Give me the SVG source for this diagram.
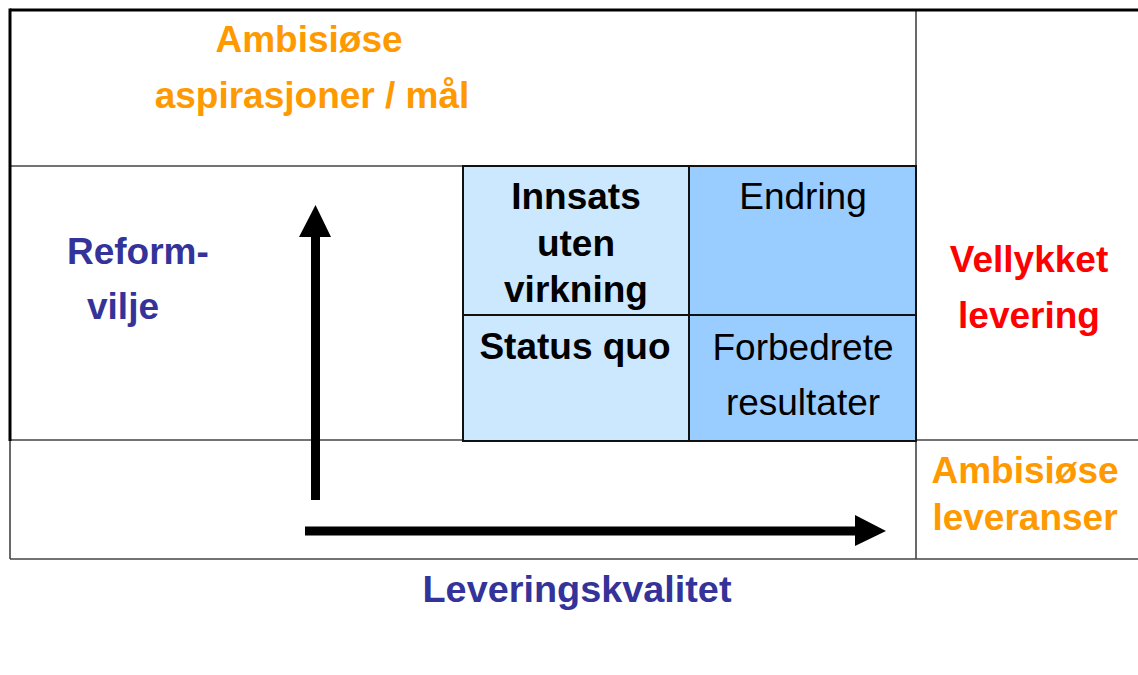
<svg xmlns="http://www.w3.org/2000/svg" width="1138" height="675" viewBox="0 0 1138 675">
<style>
text{font-family:"Liberation Sans",Arial,sans-serif;font-size:37px}
.b{font-weight:bold}
.m{text-anchor:middle}
.or{fill:#FF9900}
.nv{fill:#333399}
.rd{fill:#FF0000}
.blk{fill:#000}
.thin{stroke:#444;stroke-width:1.6;fill:none}
.thick{stroke:#000;stroke-width:3;fill:none}
.cell{stroke:#111;stroke-width:2}
.c1{fill:#CCE8FF}
.c2{fill:#99CCFF}
</style>
<rect width="1138" height="675" fill="#fff"/>
<g id="frame">
<line class="thin" x1="10" y1="166" x2="916" y2="166"/>
<line class="thin" x1="916" y1="10" x2="916" y2="559"/>
<line class="thin" x1="10" y1="440" x2="1138" y2="440"/>
<line class="thin" x1="10" y1="559" x2="1138" y2="559"/>
<line class="thin" x1="10" y1="440" x2="10" y2="559"/>
<line class="thick" x1="10" y1="10" x2="1138" y2="10"/>
<line class="thick" x1="10" y1="8.5" x2="10" y2="441"/>
</g>
<g id="aspirasjoner">
<text class="b m or" x="309" y="52">Ambisiøse</text>
<text class="b m or" x="312" y="108">aspirasjoner / mål</text>
</g>
<g id="reformvilje">
<text class="b nv" x="67" y="264">Reform-</text>
<text class="b nv" x="87" y="319">vilje</text>
</g>
<g id="innsats">
<rect class="cell c1" x="463" y="166" width="226" height="149"/>
<text class="b m" x="576" y="209">Innsats</text>
<text class="b m" x="576" y="256">uten</text>
<text class="b m" x="576" y="302">virkning</text>
</g>
<g id="endring">
<rect class="cell c2" x="689" y="166" width="227" height="149"/>
<text class="m" x="803" y="209">Endring</text>
</g>
<g id="statusquo">
<rect class="cell c1" x="463" y="315" width="226" height="126"/>
<text class="b m" x="575" y="359">Status quo</text>
</g>
<g id="forbedrete">
<rect class="cell c2" x="689" y="315" width="227" height="126"/>
<text class="m" x="803" y="360">Forbedrete</text>
<text class="m" x="803" y="415">resultater</text>
</g>
<g id="vellykket">
<text class="b m rd" x="1029" y="272">Vellykket</text>
<text class="b m rd" x="1029" y="328">levering</text>
</g>
<g id="leveranser">
<text class="b m or" x="1025" y="483">Ambisiøse</text>
<text class="b m or" x="1025" y="530">leveranser</text>
</g>
<g id="leveringskvalitet">
<text class="b m nv" x="577" y="602" textLength="309" lengthAdjust="spacingAndGlyphs">Leveringskvalitet</text>
</g>
<g id="connectors">
<path class="blk" d="M311,500 V237 H299 L315.5,205 L331,237 H320 V500 Z"/>
<path class="blk" d="M305,526.5 H855 V515 L886,531 L855,546 V535.5 H305 Z"/>
</g>
</svg>
